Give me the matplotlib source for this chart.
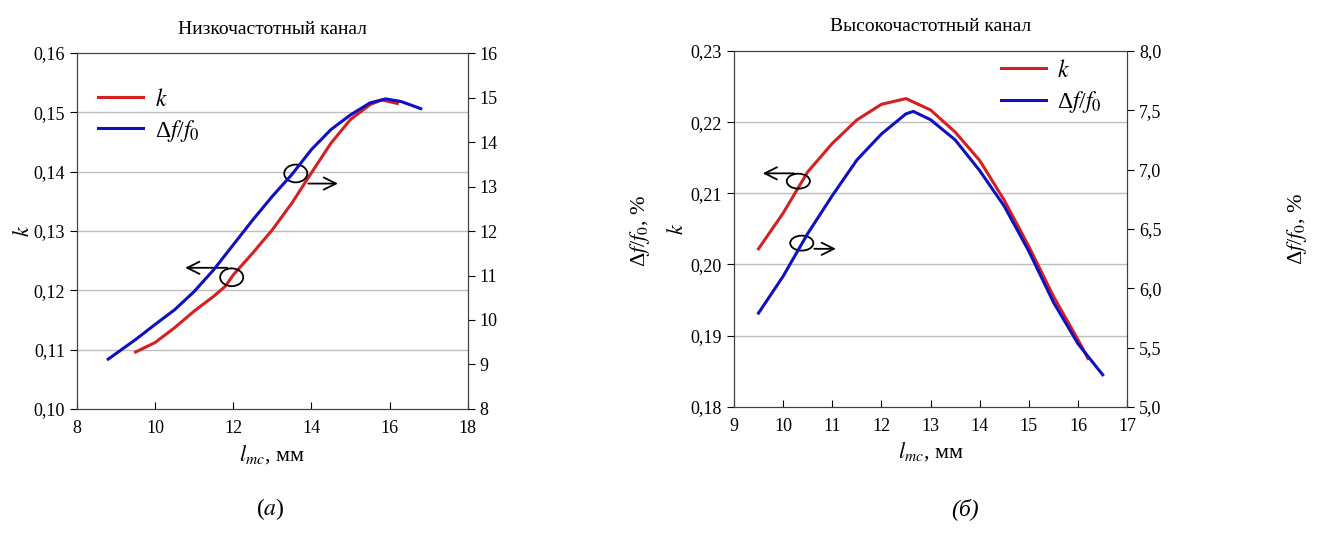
import numpy as np
import matplotlib.pyplot as plt
from matplotlib.patches import Ellipse
from matplotlib.lines import Line2D

plt.rcParams['font.family'] = ['Liberation Serif', 'DejaVu Serif']
plt.rcParams['mathtext.fontset'] = 'stix'

# Низкочастотный канал (a)
lf_x_k = [9.5, 10.0, 10.5, 11.0, 11.5, 11.8, 12.0, 12.5, 13.0, 13.5, 14.0, 14.5, 15.0, 15.5, 15.8, 16.2]
lf_k = [0.1096, 0.1112, 0.1137, 0.1165, 0.1190, 0.1207, 0.1226, 0.1263, 0.1302, 0.1347,
        0.1398, 0.1448, 0.1488, 0.1513, 0.1521, 0.1515]
lf_x_df = [8.8, 9.5, 10.0, 10.5, 11.0, 11.5, 12.0, 12.5, 13.0, 13.5, 14.0, 14.5, 15.0, 15.5,
           15.9, 16.3, 16.8]
lf_df = [9.12, 9.56, 9.90, 10.23, 10.64, 11.13, 11.69, 12.25, 12.78, 13.27, 13.83, 14.28,
         14.61, 14.88, 14.97, 14.91, 14.75]

# Высокочастотный канал (б)
hf_x_k = [9.5, 10.0, 10.5, 11.0, 11.5, 12.0, 12.5, 13.0, 13.5, 14.0, 14.5, 15.0, 15.5, 16.0, 16.2]
hf_k = [0.2022, 0.2072, 0.2130, 0.2170, 0.2203, 0.2225, 0.2233, 0.2217, 0.2186, 0.2146,
        0.2090, 0.2025, 0.1955, 0.1894, 0.1868]
hf_x_df = [9.5, 10.0, 10.5, 11.0, 11.5, 12.0, 12.5, 12.65, 13.0, 13.5, 14.0, 14.5, 15.0,
           15.5, 16.0, 16.5]
hf_df = [5.79, 6.10, 6.46, 6.78, 7.08, 7.30, 7.47, 7.49, 7.42, 7.25, 6.99, 6.69, 6.31,
         5.88, 5.53, 5.27]

red = "#d42020"
blue = "#1010c0"
fs = 13

fig = plt.figure(figsize=(13.2, 5.36), dpi=100)
axL = fig.add_axes([0.0583, 0.237, 0.296, 0.664])
axR = fig.add_axes([0.556, 0.241, 0.298, 0.664])


def setup(ax, xlim, xticks, ylim, yticks, ylabels, y2lim, y2ticks, y2labels, title):
    ax.set_xlim(*xlim)
    ax.set_ylim(*ylim)
    ax.set_xticks(xticks)
    ax.set_xticklabels([str(t) for t in xticks], fontsize=fs)
    ax.set_yticks(yticks)
    ax.set_yticklabels(ylabels, fontsize=fs)
    ax.tick_params(axis='x', direction='in', length=5, pad=8)
    ax.tick_params(axis='y', direction='out', length=5)
    for t in yticks[1:-1]:
        ax.axhline(t, color='#bdbdbd', lw=1, zorder=0)
    for s in ax.spines.values():
        s.set_color('#404040')
    ax.set_ylabel('$k$', fontsize=16)
    ax.set_xlabel('$l_{mc}$' + ', мм', fontsize=16)
    ax.set_title(title, fontsize=fs + 1, pad=14)
    ax2 = ax.twinx()
    ax2.set_ylim(*y2lim)
    ax2.set_yticks(y2ticks)
    ax2.set_yticklabels(y2labels, fontsize=fs)
    ax2.tick_params(axis='y', direction='out', length=5)
    for s in ax2.spines.values():
        s.set_color('#404040')
    return ax2


axL2 = setup(axL, (8, 18), [8, 10, 12, 14, 16, 18], (0.10, 0.16),
             [0.10, 0.11, 0.12, 0.13, 0.14, 0.15, 0.16],
             ['0,10', '0,11', '0,12', '0,13', '0,14', '0,15', '0,16'],
             (8, 16), list(range(8, 17)), [str(v) for v in range(8, 17)],
             'Низкочастотный канал')
axR2 = setup(axR, (9, 17), list(range(9, 18)), (0.18, 0.23),
             [0.18, 0.19, 0.20, 0.21, 0.22, 0.23],
             ['0,18', '0,19', '0,20', '0,21', '0,22', '0,23'],
             (5.0, 8.0), [5.0, 5.5, 6.0, 6.5, 7.0, 7.5, 8.0],
             ['5,0', '5,5', '6,0', '6,5', '7,0', '7,5', '8,0'],
             'Высокочастотный канал')

axL.plot(lf_x_k, lf_k, color=red, lw=2.2)
axL2.plot(lf_x_df, lf_df, color=blue, lw=2.2)
axR.plot(hf_x_k, hf_k, color=red, lw=2.2)
axR2.plot(hf_x_df, hf_df, color=blue, lw=2.2)

axL.yaxis.set_label_coords(-0.11, 0.5)
axR.yaxis.set_label_coords(-0.117, 0.5)
axL2.set_ylabel('Δ$f$/$f_0$, %', fontsize=16, rotation=90)
axL2.yaxis.set_label_coords(1.41, 0.5)
axR2.set_ylabel('Δ$f$/$f_0$, %', fontsize=16, rotation=90)
axR2.yaxis.set_label_coords(1.40, 0.5)

# Ellipses and arrows pointing to the axis for each curve
def mark(ax, cx, cy, w, h, x0, x1, y):
    ax.add_patch(Ellipse((cx, cy), w, h, fill=False, color='black', lw=1.3, zorder=5))
    ax.annotate('', xy=(x1, y), xytext=(x0, y),
                arrowprops=dict(arrowstyle='->', color='black', lw=1.3,
                                mutation_scale=22), zorder=5)

mark(axL, 13.6, 0.1397, 0.59, 0.0030, 13.85, 14.75, 0.1380)
mark(axL, 11.96, 0.1222, 0.59, 0.0030, 11.92, 10.7, 0.1238)
mark(axR, 10.31, 0.2117, 0.47, 0.0021, 10.28, 9.53, 0.2128)
mark(axR, 10.38, 0.2030, 0.47, 0.0021, 10.58, 11.13, 0.2022)

handles = [Line2D([], [], color=red, lw=2.2), Line2D([], [], color=blue, lw=2.2)]
labels = ['$k$', 'Δ$f$/$f_0$']
axL2.legend(handles, labels, loc='upper left', bbox_to_anchor=(0.0, 0.96), frameon=False,
            fontsize=17, handlelength=1.9, handletextpad=0.5, labelspacing=0.3)
axR2.legend(handles, labels, loc='upper right', bbox_to_anchor=(0.99, 1.035), frameon=False,
            fontsize=17, handlelength=1.9, handletextpad=0.5, labelspacing=0.3)

fig.text(0.205, 0.04, '($a$)', ha='center', fontsize=17)
fig.text(0.731, 0.04, '(б)', ha='center', fontsize=17, style='italic')

fig.savefig('out.png', dpi=100)
